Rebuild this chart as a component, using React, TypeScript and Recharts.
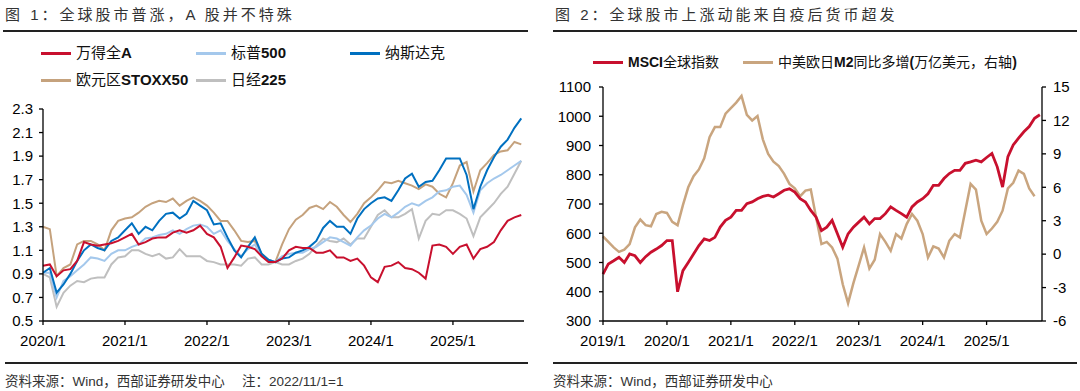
import React from "react";
import { LineChart, Line, XAxis, YAxis } from "recharts";

// ---- figure 1: monthly, 2020/1 .. 2025/11, 2022/11/1 = 1
const wind = [
  0.97, 0.98, 0.88, 0.93, 0.94, 1.01, 1.17, 1.15, 1.14, 1.15, 1.16, 1.18,
  1.21, 1.24, 1.15, 1.17, 1.2, 1.21, 1.21, 1.25, 1.27, 1.25, 1.27, 1.31,
  1.24, 1.21, 1.13, 0.95, 1.04, 1.14, 1.13, 1.11, 1.05, 1.0, 1.0, 1.03,
  1.1, 1.13, 1.12, 1.12, 1.08, 1.08, 1.1, 1.04, 1.04, 1.01, 1.03, 0.97,
  0.87, 0.83, 0.96, 0.97, 1.0, 0.95, 0.94, 0.91, 0.86, 1.14, 1.15, 1.13,
  1.07, 1.13, 1.15, 1.03, 1.11, 1.13, 1.17, 1.27, 1.35, 1.38, 1.4,
];
const spx = [
  0.91, 0.91, 0.7, 0.84, 0.88, 0.93, 0.98, 1.04, 1.03, 1.01, 1.07, 1.1,
  1.1, 1.13, 1.15, 1.2, 1.21, 1.23, 1.24, 1.27, 1.24, 1.28, 1.31, 1.32,
  1.3, 1.24, 1.27, 1.18, 1.11, 1.05, 1.11, 1.15, 1.05, 1.02, 1.0, 1.05,
  1.07, 1.08, 1.08, 1.11, 1.13, 1.17, 1.21, 1.2, 1.17, 1.14, 1.21, 1.27,
  1.31, 1.37, 1.41, 1.38, 1.42, 1.47, 1.5, 1.48, 1.52, 1.55, 1.6, 1.61,
  1.64, 1.65, 1.57, 1.42, 1.61, 1.67, 1.71, 1.74, 1.78, 1.82, 1.86,
];
const ndx = [
  0.91, 0.95, 0.74, 0.81, 0.9, 1.01, 1.1, 1.15, 1.12, 1.1, 1.18, 1.21,
  1.27, 1.33, 1.24, 1.3, 1.27, 1.35, 1.41, 1.42, 1.37, 1.41, 1.52, 1.48,
  1.44, 1.32, 1.33, 1.21, 1.1, 1.04, 1.13, 1.21, 1.07, 1.02, 1.0, 1.03,
  1.04, 1.08, 1.1, 1.13, 1.18, 1.29, 1.35, 1.3, 1.3, 1.24, 1.37, 1.45,
  1.5, 1.54, 1.55, 1.52, 1.61, 1.71, 1.75, 1.64, 1.68, 1.69, 1.78, 1.88,
  1.88, 1.88, 1.74, 1.45, 1.64, 1.78, 1.89, 1.98, 2.04, 2.14, 2.22,
];
const stoxx = [
  1.3, 1.28, 0.88, 0.95, 0.98, 1.15, 1.18, 1.18, 1.15, 1.1, 1.27, 1.35,
  1.37, 1.38, 1.42, 1.47, 1.5, 1.52, 1.51, 1.54, 1.48, 1.52, 1.55, 1.52,
  1.48, 1.42, 1.35, 1.35, 1.27, 1.18, 1.17, 1.18, 1.07, 1.02, 1.0, 1.15,
  1.28, 1.36, 1.4, 1.46, 1.48, 1.45, 1.51, 1.47, 1.4, 1.34, 1.41, 1.5,
  1.55, 1.61, 1.68, 1.67, 1.69, 1.67, 1.65, 1.62, 1.66, 1.64, 1.58, 1.55,
  1.67, 1.82, 1.85, 1.6, 1.78, 1.84, 1.91, 1.94, 1.95, 2.02, 2.0,
];
const nikkei = [
  0.9, 0.87, 0.62, 0.74, 0.8, 0.84, 0.83, 0.86, 0.87, 0.87, 0.98, 1.04,
  1.05, 1.1, 1.1, 1.07, 1.05, 1.07, 1.03, 1.04, 1.11, 1.05, 1.05, 1.05,
  1.01, 1.0, 0.98, 0.98, 0.98, 0.97, 1.03, 1.04, 0.98, 0.98, 1.0, 0.98,
  0.98, 1.01, 1.03, 1.07, 1.14, 1.2, 1.18, 1.17, 1.2, 1.15, 1.2, 1.2,
  1.3, 1.4, 1.44, 1.38, 1.38, 1.41, 1.45, 1.2, 1.35, 1.41, 1.4, 1.44,
  1.44, 1.41, 1.37, 1.22, 1.38, 1.44, 1.5, 1.58, 1.64, 1.75, 1.86,
];
const leftYearTicks = [0, 12, 24, 36, 48, 60];
const leftYearLabels = ["2020/1", "2021/1", "2022/1", "2023/1", "2024/1", "2025/1"];
const leftValueTicks = [0.5, 0.7, 0.9, 1.1, 1.3, 1.5, 1.7, 1.9, 2.1, 2.3];

// ---- figure 2: monthly, 2019/1 .. 2025/11
const msci = [
  460, 495, 506, 518, 500, 529, 523, 500, 520, 535, 546, 558,
  575, 575, 400, 472, 500, 529, 558, 581, 575, 586, 621, 644,
  655, 678, 678, 701, 707, 718, 726, 730, 724, 735, 747, 752,
  741, 718, 707, 678, 655, 609, 621, 644, 598, 552, 598, 621,
  638, 655, 632, 650, 650, 667, 690, 678, 667, 655, 690, 707,
  718, 735, 764, 764, 787, 804, 815, 815, 839, 844, 850, 844,
  859, 873, 827, 758, 862, 902, 925, 947, 965, 993, 1005,
];
const m2 = [
  1.6, 1.1, 0.6, 0.2, 0.4, 0.9, 2.4, 3.1, 2.6, 2.5, 3.6, 3.8,
  3.7, 2.9, 2.6, 4.4, 6.0, 7.0, 7.6, 8.6, 10.5, 11.4, 11.4, 12.6,
  13.1, 13.6, 14.2, 12.5, 12.0, 12.4, 10.3, 9.0, 8.3, 7.9, 7.2, 6.3,
  5.9, 5.2, 5.7, 5.8, 3.3, 0.9, 1.1, 0.6, -0.4, -2.7, -4.4, -2.6,
  -1.0, 0.6, -1.3, -0.5, 1.8, 1.1, 0.3, 1.8, 1.4, 2.7, 3.6, 3.0,
  1.8, -0.3, 0.7, 0.5, -0.3, 1.2, 1.8, 1.5, 3.9, 6.3, 5.8, 3.0,
  1.8, 2.3, 2.9, 3.9, 5.9, 6.4, 7.5, 7.2, 5.9, 5.2,
];
const rightYearTicks = [0, 12, 24, 36, 48, 60, 72];
const rightYearLabels = ["2019/1", "2020/1", "2021/1", "2022/1", "2023/1", "2024/1", "2025/1"];
const msciTicks = [300, 400, 500, 600, 700, 800, 900, 1000, 1100];
const m2Ticks = [-6, -3, 0, 3, 6, 9, 12, 15];

const leftRows = wind.map((v, i) => ({
  m: i,
  wind: v,
  spx: spx[i],
  ndx: ndx[i],
  stoxx: stoxx[i],
  nikkei: nikkei[i],
}));
const rightRows = msci.map((v, i) => ({ m: i, msci: v, m2: m2[i] }));

const LAT = "'Liberation Sans', Arial, sans-serif";
const CJK = "'Liberation Sans', 'Noto Sans CJK SC', sans-serif";

const axisLine = { stroke: "#000", strokeWidth: 1.3 };
const tickStyle = { fill: "#000", fontSize: 15, fontFamily: LAT };

function Label({ text }: { text: string }) {
  const parts = text.split(/([A-Za-z0-9()]+)/);
  return (
    <>
      {parts.map((p, i) =>
        i % 2 === 1 ? (
          <b key={i} style={{ fontFamily: LAT }}>{p}</b>
        ) : (
          <span key={i}>{p}</span>
        )
      )}
    </>
  );
}

function LegendItem({
  x,
  y,
  color,
  text,
  size,
}: {
  x: number;
  y: number;
  color: string;
  text: string;
  size: number;
}) {
  return (
    <>
      <div style={{ position: "absolute", left: x, top: y - 1.5, width: 30, height: 3, background: color }} />
      <div
        style={{
          position: "absolute",
          left: x + 35,
          top: y - 10,
          height: 20,
          lineHeight: "20px",
          fontSize: size,
          whiteSpace: "nowrap",
          color: "#111",
        }}
      >
        <Label text={text} />
      </div>
    </>
  );
}

function Title({ x, text }: { x: number; text: string }) {
  return (
    <div
      style={{
        position: "absolute",
        left: x,
        top: 5,
        lineHeight: "20px",
        fontSize: 15,
        letterSpacing: 3,
        color: "#333",
        whiteSpace: "nowrap",
      }}
    >
      {text}
    </div>
  );
}

function Rule({ x, y, w }: { x: number; y: number; w: number }) {
  return <div style={{ position: "absolute", left: x, top: y, width: w, height: 1.5, background: "#222" }} />;
}

function Source({ x, text }: { x: number; text: string }) {
  return (
    <div
      style={{
        position: "absolute",
        left: x,
        top: 372,
        lineHeight: "20px",
        fontSize: 13.5,
        color: "#333",
        whiteSpace: "pre",
      }}
    >
      {text}
    </div>
  );
}

export default function App() {
  return (
    <div
      style={{
        position: "fixed",
        left: 0,
        top: 0,
        width: 1080,
        height: 391,
        background: "#fff",
        overflow: "hidden",
        fontFamily: CJK,
      }}
    >
      <div style={{ position: "absolute", left: 0, top: 0 }}>
        <LineChart width={540} height={391} data={leftRows} margin={{ top: 109, right: 16, bottom: 40, left: 0 }}>
          <XAxis
            type="number"
            dataKey="m"
            domain={[0, 70.4]}
            ticks={leftYearTicks}
            tickFormatter={(v: number) => leftYearLabels[leftYearTicks.indexOf(v)]}
            height={30}
            tickSize={4}
            tickMargin={10}
            axisLine={axisLine}
            tickLine={axisLine}
            tick={tickStyle}
          />
          <YAxis
            domain={[0.5, 2.3]}
            ticks={leftValueTicks}
            tickFormatter={(v: number) => v.toFixed(1)}
            width={43}
            tickSize={4}
            tickMargin={6}
            axisLine={axisLine}
            tickLine={axisLine}
            tick={tickStyle}
          />
          <Line dataKey="nikkei" stroke="#BFBFBF" strokeWidth={2} dot={false} activeDot={false} isAnimationActive={false} />
          <Line dataKey="stoxx" stroke="#C5A27D" strokeWidth={2} dot={false} activeDot={false} isAnimationActive={false} />
          <Line dataKey="spx" stroke="#A4C8EC" strokeWidth={2} dot={false} activeDot={false} isAnimationActive={false} />
          <Line dataKey="ndx" stroke="#0070C0" strokeWidth={2} dot={false} activeDot={false} isAnimationActive={false} />
          <Line dataKey="wind" stroke="#C8102E" strokeWidth={2} dot={false} activeDot={false} isAnimationActive={false} />
        </LineChart>
      </div>

      <div style={{ position: "absolute", left: 540, top: 0 }}>
        <LineChart width={540} height={391} data={rightRows} margin={{ top: 87, right: 0, bottom: 40, left: 0 }}>
          <XAxis
            type="number"
            dataKey="m"
            domain={[0, 82.4]}
            ticks={rightYearTicks}
            tickFormatter={(v: number) => rightYearLabels[rightYearTicks.indexOf(v)]}
            height={30}
            tickSize={4}
            tickMargin={10}
            axisLine={axisLine}
            tickLine={axisLine}
            tick={tickStyle}
          />
          <YAxis
            yAxisId="left"
            domain={[300, 1100]}
            ticks={msciTicks}
            width={63}
            tickSize={4}
            tickMargin={8}
            axisLine={axisLine}
            tickLine={axisLine}
            tick={tickStyle}
          />
          <YAxis
            yAxisId="right"
            orientation="right"
            domain={[-6, 15]}
            ticks={m2Ticks}
            width={38}
            tickSize={4}
            tickMargin={7}
            axisLine={axisLine}
            tickLine={axisLine}
            tick={tickStyle}
          />
          <Line yAxisId="right" dataKey="m2" stroke="#C9A57F" strokeWidth={2.5} dot={false} activeDot={false} isAnimationActive={false} />
          <Line yAxisId="left" dataKey="msci" stroke="#C8102E" strokeWidth={2.8} dot={false} activeDot={false} isAnimationActive={false} />
        </LineChart>
      </div>

      <Title x={5} text="图 1：全球股市普涨，A 股并不特殊" />
      <Title x={555} text="图 2：全球股市上涨动能来自疫后货币超发" />
      <Rule x={3} y={30} w={525} />
      <Rule x={553} y={30} w={524} />

      <LegendItem x={41} y={53} color="#C8102E" text="万得全A" size={15} />
      <LegendItem x={196} y={53} color="#A4C8EC" text="标普500" size={15} />
      <LegendItem x={350} y={53} color="#0070C0" text="纳斯达克" size={15} />
      <LegendItem x={41} y={80} color="#C5A27D" text="欧元区STOXX50" size={15} />
      <LegendItem x={196} y={80} color="#BFBFBF" text="日经225" size={15} />

      <LegendItem x={593} y={62} color="#C8102E" text="MSCI全球指数" size={14} />
      <LegendItem x={743} y={62} color="#C9A57F" text="中美欧日M2同比多增(万亿美元，右轴)" size={14} />

      <Rule x={5} y={362} w={523} />
      <Rule x={553} y={362} w={524} />
      <Source x={5} text="资料来源：Wind，西部证券研发中心　 注：2022/11/1=1" />
      <Source x={553} text="资料来源：Wind，西部证券研发中心" />
    </div>
  );
}
